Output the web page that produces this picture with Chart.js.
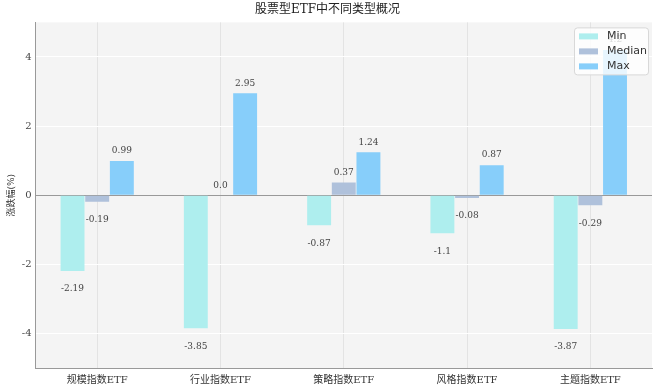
<!DOCTYPE html>
<html>
<head>
<meta charset="utf-8">
<script src="https://cdn.jsdelivr.net/npm/chart.js@4"></script>
<style>
  html, body { margin: 0; padding: 0; background: #ffffff; }
</style>
</head>
<body>
<canvas id="etfChart" width="660" height="392"></canvas>
<script>
const categories = ["规模指数ETF", "行业指数ETF", "策略指数ETF", "风格指数ETF", "主题指数ETF"];
const minValues = [-2.19, -3.85, -0.87, -1.1, -3.87];
const medianValues = [-0.19, 0.0, 0.37, -0.08, -0.29];
const maxValues = [0.99, 2.95, 1.24, 0.87, 4.2];
const yTicks = [-4, -2, 0, 2, 4];

const serif = "'DejaVu Serif', 'Liberation Serif', 'Noto Sans CJK SC', serif";

function fmt(v) {
  return Number.isInteger(v) ? v.toFixed(1) : String(v);
}

const plotBg = {
  id: "plotBg",
  beforeDraw(chart) {
    const { ctx, chartArea } = chart;
    ctx.save();
    ctx.fillStyle = "#f4f4f4";
    ctx.fillRect(chartArea.left, chartArea.top, chartArea.right - chartArea.left, chartArea.bottom - chartArea.top);
    ctx.restore();
  },
};

const valueLabels = {
  id: "valueLabels",
  afterDatasetsDraw(chart) {
    const ctx = chart.ctx;
    ctx.save();
    ctx.font = "9px " + serif;
    ctx.fillStyle = "#444";
    ctx.textAlign = "center";
    ctx.textBaseline = "middle";
    chart.data.datasets.forEach((ds, i) => {
      chart.getDatasetMeta(i).data.forEach((bar, j) => {
        const v = ds.data[j];
        const y = v >= 0 ? bar.y - 10 : bar.y + 18;
        ctx.fillText(fmt(v), bar.x, y);
      });
    });
    ctx.restore();
  },
};

const boxLegend = {
  id: "boxLegend",
  afterDatasetsDraw(chart) {
    const ctx = chart.ctx;
    const area = chart.chartArea;
    const w = 74, h = 47;
    const x = area.right - w - 4;
    const y = area.top + 5;
    ctx.save();
    ctx.fillStyle = "rgba(255,255,255,0.8)";
    ctx.strokeStyle = "#d8d8d8";
    ctx.lineWidth = 1;
    ctx.beginPath();
    ctx.roundRect(x + 0.5, y + 0.5, w, h, 3);
    ctx.fill();
    ctx.stroke();
    ctx.font = "11px 'DejaVu Sans', sans-serif";
    ctx.textBaseline = "middle";
    ctx.textAlign = "left";
    chart.data.datasets.forEach((ds, i) => {
      const ry = y + 9 + i * 15;
      ctx.fillStyle = ds.backgroundColor;
      ctx.fillRect(x + 5, ry - 3, 19, 6);
      ctx.fillStyle = "#333";
      ctx.fillText(ds.label, x + 33, ry);
    });
    ctx.restore();
  },
};

new Chart(document.getElementById("etfChart"), {
  type: "bar",
  data: {
    labels: categories,
    datasets: [
      { label: "Min", data: minValues, backgroundColor: "#aeeeee" },
      { label: "Median", data: medianValues, backgroundColor: "#afc1db" },
      { label: "Max", data: maxValues, backgroundColor: "#87cefa" },
    ],
  },
  options: {
    responsive: false,
    animation: false,
    layout: { padding: { left: 3, right: 8, top: 0, bottom: 0 } },
    datasets: {
      bar: { categoryPercentage: 0.6, barPercentage: 0.97 },
    },
    plugins: {
      legend: { display: false },
      tooltip: { enabled: false },
      title: {
        display: true,
        text: "股票型ETF中不同类型概况",
        color: "#222",
        font: { family: serif, size: 12, weight: "normal" },
        padding: { top: 3, bottom: 5 },
      },
    },
    scales: {
      x: {
        grid: { offset: false, color: "#e3e3e3", drawTicks: false },
        border: { color: "#999" },
        ticks: { color: "#333", font: { family: serif, size: 10 }, padding: 6 },
      },
      y: {
        min: -5,
        max: 5,
        afterBuildTicks(axis) {
          axis.ticks = yTicks.map((v) => ({ value: v }));
        },
        grid: {
          color: (c) => (c.tick && c.tick.value === 0 ? "#999" : "#ffffff"),
          drawTicks: false,
        },
        border: { color: "#999" },
        ticks: { color: "#444", font: { family: serif, size: 10 }, padding: 4 },
        title: {
          display: true,
          text: "涨跌幅(%)",
          color: "#333",
          font: { family: serif, size: 9 },
          padding: { top: 3, bottom: 1 },
        },
      },
    },
  },
  plugins: [plotBg, valueLabels, boxLegend],
});
</script>
</body>
</html>
